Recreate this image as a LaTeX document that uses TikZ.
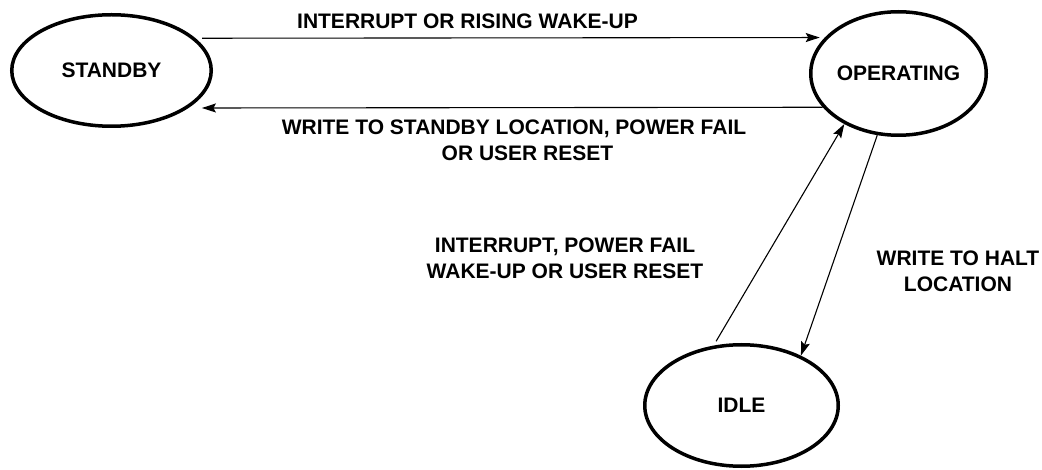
\documentclass[tikz,border=0pt]{standalone}
\usepackage{fontspec}
\setmainfont{Liberation Sans}
\usetikzlibrary{shapes.geometric,arrows.meta}
\tikzset{
  state/.style={ellipse, draw=black, line width=3.5pt, inner sep=0pt,
    font=\fontsize{21}{26}\selectfont\bfseries},
  lbl/.style={align=center, inner sep=0pt,
    font=\fontsize{21}{26}\selectfont\bfseries},
  conn/.style={draw=black, line width=1.1pt,
    -{Stealth[length=14pt,width=9pt,inset=2.5pt]}}
}
\begin{document}
\begin{tikzpicture}[x=1pt,y=-1pt]
\useasboundingbox (0,0) rectangle (1042,470);
\node[state, minimum width=199.5pt, minimum height=111.5pt] (standby) at (111.5,70.5) {STANDBY};
\node[state, minimum width=175.5pt, minimum height=123.5pt] (operating) at (898.5,73.5) {OPERATING};
\node[state, minimum width=193.5pt, minimum height=121.5pt] (idle) at (741.5,405.5) {IDLE};

\draw[conn, shorten <=6.5pt, shorten >=5pt] (standby.21.2) -- (operating.154.4);
\draw[conn, shorten >=13.5pt] (operating.204.9) -- (standby.-26.3);
\draw[conn, shorten <=5pt] (idle.115.9) -- (operating.223.6);
\draw[conn] (operating.251) -- (idle.40.9);

\node[lbl, anchor=base] (l1) at (467.5,29) {INTERRUPT OR RISING WAKE-UP};
\node[lbl] (l2) at (514,140) {WRITE TO STANDBY LOCATION, POWER FAIL\\\hspace*{27pt}OR USER RESET};
\node[lbl] (l3) at (565,258.7) {INTERRUPT, POWER FAIL\\WAKE-UP OR USER RESET};
\node[lbl] (l4) at (958,270.8) {WRITE TO HALT\\LOCATION};
\end{tikzpicture}
\end{document}
